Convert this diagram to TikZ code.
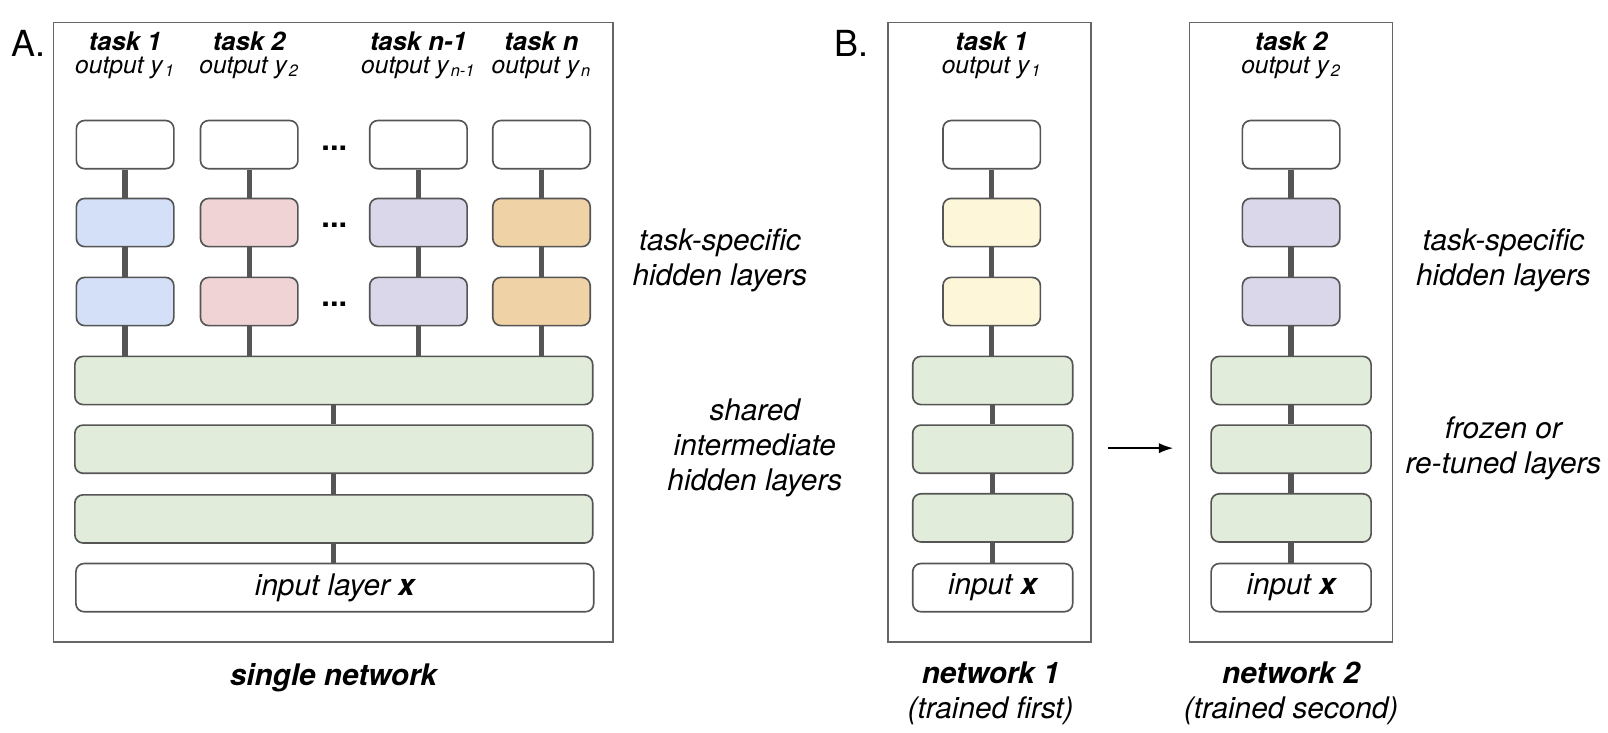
\documentclass[tikz,border=0pt]{standalone}
\usepackage{fontspec}
\setmainfont{TeX Gyre Heros}
\usetikzlibrary{arrows.meta}
\definecolor{boxline}{HTML}{555555}
\definecolor{frameline}{HTML}{666666}
\definecolor{taskblue}{HTML}{D3E0F7}
\definecolor{taskpink}{HTML}{F0D3D5}
\definecolor{tasklilac}{HTML}{DAD7EA}
\definecolor{tasktan}{HTML}{F0D2A7}
\definecolor{taskyellow}{HTML}{FDF6D9}
\definecolor{sharedgreen}{HTML}{E1EDDA}
\newcommand{\outsub}[1]{\kern1pt\textsubscript{#1}}
\begin{document}
\begin{tikzpicture}[x=0.5pt,y=-0.5pt,
  every node/.style={font=\fontsize{14.5}{17}\selectfont\itshape},
  layer/.style={draw=boxline,line width=0.8pt,rounded corners=4pt,minimum width=47.5pt,minimum height=23.5pt,inner sep=0pt},
  widelayer/.style={layer,minimum width=252.5pt},
  netlayer/.style={layer,minimum width=78pt},
  link/.style={draw=boxline,line width=2.6pt},
  frame/.style={draw=frameline,line width=0.8pt},
  tasktitle/.style={inner sep=1pt,font=\fontsize{12.5}{13}\selectfont\bfseries\itshape},
  taskoutput/.style={inner sep=1pt,font=\fontsize{12}{13}\selectfont\itshape},
  layerdots/.style={font=\fontsize{15}{16}\selectfont\bfseries},
  panel/.style={font=\fontsize{17.5}{20}\selectfont}]
\useasboundingbox (0,0) rectangle (1568,714);
% Panel A
\node[panel] (labelA) at (28,42) {A.};
\draw[frame] (52,22) rectangle (598,626);
% Task titles
\node[tasktitle] (a1t) at (122,40) {task 1};
\node[tasktitle] (a2t) at (243,40) {task 2};
\node[tasktitle] (a3t) at (408,40) {task n-1};
\node[tasktitle] (a4t) at (528,40) {task n};
\node[taskoutput] (a1y) at (122,66) {output y\outsub{1}};
\node[taskoutput] (a2y) at (243,66) {output y\outsub{2}};
\node[taskoutput] (a3y) at (408,66) {output y\outsub{n-1}};
\node[taskoutput] (a4y) at (528,66) {output y\outsub{n}};
% Output layers
\node[layer] (a1o) at (122,141) {};
\node[layer] (a2o) at (243,141) {};
\node[layer] (a3o) at (408,141) {};
\node[layer] (a4o) at (528,141) {};
% Task-specific hidden layers
\node[layer,fill=taskblue] (a1h1) at (122,217) {};
\node[layer,fill=taskpink] (a2h1) at (243,217) {};
\node[layer,fill=tasklilac] (a3h1) at (408,217) {};
\node[layer,fill=tasktan] (a4h1) at (528,217) {};
\node[layer,fill=taskblue] (a1h2) at (122,294) {};
\node[layer,fill=taskpink] (a2h2) at (243,294) {};
\node[layer,fill=tasklilac] (a3h2) at (408,294) {};
\node[layer,fill=tasktan] (a4h2) at (528,294) {};
% Dots between columns
\node[layerdots] (dots1) at (326,145) {...};
\node[layerdots] (dots2) at (326,220) {...};
\node[layerdots] (dots3) at (326,297) {...};
% Shared layers and input
\node[widelayer,fill=sharedgreen] (as1) at (325.5,371) {};
\node[widelayer,fill=sharedgreen] (as2) at (325.5,438) {};
\node[widelayer,fill=sharedgreen] (as3) at (325.5,506) {};
\node[widelayer] (ain) at (326.5,573) {input layer \textbf{x}};
% Draw connections
\draw[link] (a1o) -- (a1h1);
\draw[link] (a2o) -- (a2h1);
\draw[link] (a3o) -- (a3h1);
\draw[link] (a4o) -- (a4h1);
\draw[link] (a1h1) -- (a1h2);
\draw[link] (a2h1) -- (a2h2);
\draw[link] (a3h1) -- (a3h2);
\draw[link] (a4h1) -- (a4h2);
\draw[link] (a1h2) -- (a1h2 |- as1.north);
\draw[link] (a2h2) -- (a2h2 |- as1.north);
\draw[link] (a3h2) -- (a3h2 |- as1.north);
\draw[link] (a4h2) -- (a4h2 |- as1.north);
\draw[link] (as1) -- (as2);
\draw[link] (as2) -- (as3);
\draw[link] (as3) -- (as3 |- ain.north);
% Labels of panel A
\node[font=\fontsize{14.5}{17}\selectfont\bfseries\itshape] (single) at (325,661) {single network};
\node[align=center] (aspecific) at (702,254) {task-specific\\hidden layers};
\node[align=center] (ashared) at (736,437) {shared\\intermediate\\hidden layers};
% Panel B
\node[panel] (labelB) at (830,42) {B.};
\draw[frame] (866,22) rectangle (1064,626);
\draw[frame] (1160,22) rectangle (1358,626);
% Network 1
\node[tasktitle] (b1t) at (967,40) {task 1};
\node[taskoutput] (b1y) at (967,66) {output y\outsub{1}};
\node[layer] (b1o) at (967,141) {};
\node[layer,fill=taskyellow] (b1h1) at (967,217) {};
\node[layer,fill=taskyellow] (b1h2) at (967,294) {};
\node[netlayer,fill=sharedgreen] (b1s1) at (968,371) {};
\node[netlayer,fill=sharedgreen] (b1s2) at (968,438) {};
\node[netlayer,fill=sharedgreen] (b1s3) at (968,505) {};
\node[netlayer] (b1in) at (968,573) {input \textbf{x}};
% Network 2
\node[tasktitle] (b2t) at (1259,40) {task 2};
\node[taskoutput] (b2y) at (1259,66) {output y\outsub{2}};
\node[layer] (b2o) at (1259,141) {};
\node[layer,fill=tasklilac] (b2h1) at (1259,217) {};
\node[layer,fill=tasklilac] (b2h2) at (1259,294) {};
\node[netlayer,fill=sharedgreen] (b2s1) at (1259,371) {};
\node[netlayer,fill=sharedgreen] (b2s2) at (1259,438) {};
\node[netlayer,fill=sharedgreen] (b2s3) at (1259,505) {};
\node[netlayer] (b2in) at (1259,573) {input \textbf{x}};
% Draw connections
\draw[link] (b1o) -- (b1h1);
\draw[link] (b1h1) -- (b1h2);
\draw[link] (b1h2) -- (b1h2 |- b1s1.north);
\draw[link] (b1s1) -- (b1s2);
\draw[link] (b1s2) -- (b1s3);
\draw[link] (b1s3) -- (b1s3 |- b1in.north);
\draw[link] (b2o) -- (b2h1);
\draw[link] (b2h1) -- (b2h2);
\draw[link] (b2h2) -- (b2h2 |- b2s1.north);
\draw[link] (b2s1) -- (b2s2);
\draw[link] (b2s2) -- (b2s3);
\draw[link] (b2s3) -- (b2s3 |- b2in.north);
% Arrow between networks
\coordinate (arrowstart) at (1080,437);
\coordinate (arrowend) at (1144,437);
\draw[line width=0.8pt,-{Latex[length=7pt,width=5pt]}] (arrowstart) -- (arrowend);
% Labels of panel B
\node[align=center] (b1name) at (966,676) {\textbf{network 1}\\(trained first)};
\node[align=center] (b2name) at (1259,676) {\textbf{network 2}\\(trained second)};
\node[align=center] (bspecific) at (1466,254) {task-specific\\hidden layers};
\node[align=center] (bfrozen) at (1466,437) {frozen or\\re-tuned layers};
\end{tikzpicture}
\end{document}
